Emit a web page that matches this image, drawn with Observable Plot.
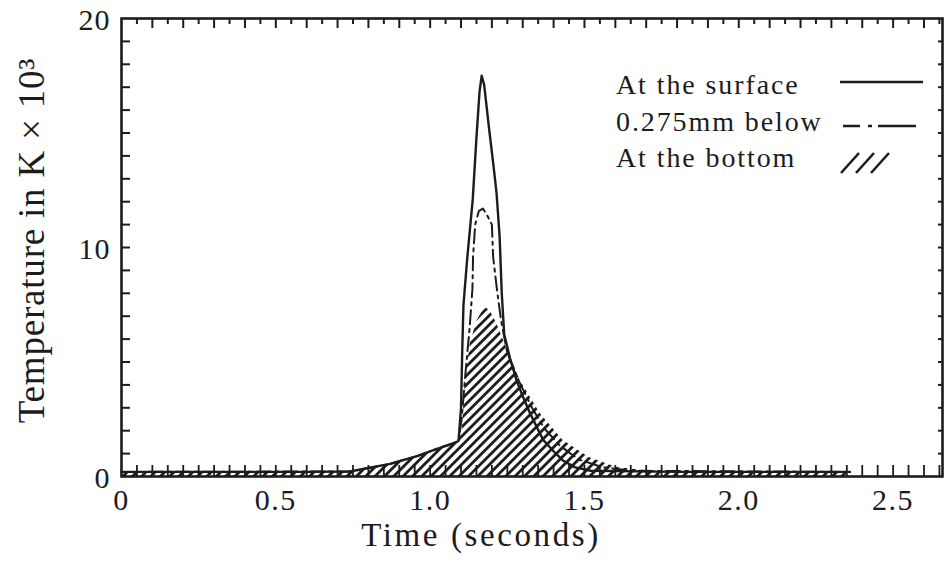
<!DOCTYPE html>
<html><head><meta charset="utf-8">
<script src="https://cdn.jsdelivr.net/npm/d3@7"></script>
<script src="https://cdn.jsdelivr.net/npm/@observablehq/plot@0.6"></script>
<style>
body{margin:0;background:#fff;}
#wrap{position:relative;width:944px;height:565px;overflow:hidden;}
#legend{position:absolute;left:0;top:0;pointer-events:none;}
.xticks text{letter-spacing:1.5px;}
.yticks text{letter-spacing:1px;}
.xtitle text{letter-spacing:2.6px;}
.ytitle text{letter-spacing:0.8px;}
</style></head><body><div id="wrap"></div>
<script>
// ---- data ----
const timeSurface = [0, 0.3, 0.6, 0.74, 0.87, 0.96, 1.02, 1.075, 1.092, 1.100, 1.104, 1.108, 1.12, 1.138, 1.15, 1.16, 1.167, 1.175, 1.19, 1.205, 1.215, 1.225, 1.232, 1.24, 1.26, 1.28, 1.30, 1.324, 1.366, 1.40, 1.43, 1.47, 1.52, 1.8, 2.36];
const tempSurface = [0.2, 0.2, 0.2, 0.22, 0.55, 0.9, 1.2, 1.45, 1.55, 3.0, 5.5, 7.5, 9.5, 12.1, 14.8, 16.8, 17.5, 17.1, 15.3, 13.6, 12.4, 10.5, 8.0, 6.2, 5.1, 4.2, 3.5, 2.75, 1.6, 1.1, 0.7, 0.4, 0.25, 0.2, 0.2];

const timeMid = [0, 0.74, 0.87, 0.96, 1.02, 1.075, 1.092, 1.102, 1.115, 1.128, 1.137, 1.139, 1.146, 1.158, 1.171, 1.185, 1.2, 1.204, 1.217, 1.23, 1.25, 1.29, 1.33, 1.37, 1.42, 1.48, 1.56, 1.66, 2.36];
const tempMid = [0.2, 0.22, 0.55, 0.9, 1.2, 1.45, 1.55, 2.5, 4.6, 6.5, 8.2, 9.6, 11.0, 11.6, 11.7, 11.4, 11.0, 9.6, 8.1, 6.8, 5.4, 4.1, 3.0, 2.1, 1.35, 0.75, 0.4, 0.25, 0.2];

const timeBottom = [0, 0.74, 0.87, 0.96, 1.02, 1.075, 1.092, 1.104, 1.113, 1.13, 1.152, 1.178, 1.195, 1.215, 1.245, 1.291, 1.356, 1.43, 1.515, 1.605, 1.7, 1.8, 2.36];
const tempBottom = [0.2, 0.22, 0.55, 0.9, 1.2, 1.45, 1.55, 2.0, 4.0, 5.8, 6.8, 7.4, 7.2, 6.7, 5.7, 4.2, 2.76, 1.58, 0.83, 0.39, 0.25, 0.2, 0.2];

const xTickLabels = [0, 0.5, 1.0, 1.5, 2.0, 2.5];
const yTickLabels = [0, 10, 20];
const seriesNames = ["At the surface", "0.275mm below", "At the bottom"];

// ---- build tables ----
const surface = timeSurface.map((t, i) => ({t, v: tempSurface[i]}));
const mid = timeMid.map((t, i) => ({t, v: tempMid[i]}));
const bottom = timeBottom.map((t, i) => ({t, v: tempBottom[i]}));

const W = 944, H = 565, mL = 121, mR = 2, mT = 18, mB = 89;
const innerW = W - mL - mR, innerH = H - mT - mB;
const ink = "#1c1c1c";
const font = "'Liberation Serif', 'Times New Roman', serif";

const xMinor = d3.range(1, 54).map(i => i * 0.05);
const xMajorTop = xMinor.filter((d, i) => i % 2 === 1);
const xMinorTop = xMinor.filter((d, i) => i % 2 === 0);
const yMinor = d3.range(1, 20);

const svg = Plot.plot({
  width: W, height: H,
  marginLeft: mL, marginRight: mR, marginTop: mT, marginBottom: mB,
  style: {fontFamily: font, color: ink, background: "#fff", overflow: "visible"},
  x: {domain: [0, 2.66], axis: null},
  y: {domain: [0, 20], axis: null},
  marks: [
    Plot.areaY(bottom, {x: "t", y: "v", fill: "url(#hatch)"}),
    Plot.line(surface, {x: "t", y: "v", stroke: ink, strokeWidth: 2.4}),
    Plot.line(mid, {x: "t", y: "v", stroke: ink, strokeWidth: 2, strokeDasharray: "14,5,3,5"}),
    // inward ticks
    Plot.tickX(xMajorTop, {x: d => d, stroke: ink, strokeWidth: 2, insetBottom: innerH - 10}),
    Plot.tickX(xMinorTop, {x: d => d, stroke: ink, strokeWidth: 2, insetBottom: innerH - 6}),
    Plot.tickX(xMinor, {x: d => d, stroke: ink, strokeWidth: 1.8, insetTop: innerH - 11}),
    Plot.tickY(yMinor, {y: d => d, stroke: ink, strokeWidth: 2, insetRight: innerW - 9}),
    Plot.tickY(yMinor, {y: d => d, stroke: ink, strokeWidth: 2, insetLeft: innerW - 4}),
    Plot.frame({stroke: ink, strokeWidth: 2.6}),
    Plot.axisX(xTickLabels, {tickSize: 0, tickPadding: 12, fontSize: 30, label: null,
      tickFormat: d => d === 0 ? "0" : d.toFixed(1), className: "xticks"}),
    Plot.axisY(yTickLabels, {tickSize: 0, tickPadding: 11, fontSize: 30, label: null, dy: 2,
      className: "yticks"}),
    Plot.text(["Time (seconds)"], {text: d => d, frameAnchor: "bottom", dx: -51, dy: 69,
      fontSize: 33, fill: ink, className: "xtitle"}),
    Plot.text(["Temperature in K \u00d7 10\u00b3"], {text: d => d, frameAnchor: "left", textAnchor: "middle",
      dx: -89, dy: -7, rotate: -90, fontSize: 37, fill: ink, className: "ytitle"})
  ]
});

// hatch pattern
const defs = d3.select(svg).insert("defs", ":first-child");
const pat = defs.append("pattern").attr("id", "hatch").attr("patternUnits", "userSpaceOnUse")
  .attr("width", 6.6).attr("height", 6.6).attr("patternTransform", "rotate(45)");
pat.append("rect").attr("x", 0).attr("y", 0).attr("width", 2.8).attr("height", 6.6).attr("fill", ink);

document.getElementById("wrap").appendChild(svg);

// legend overlay
const lg = d3.select("#wrap").append("svg").attr("id", "legend").attr("width", W).attr("height", H);
const lgText = lg.append("g").attr("font-family", font).attr("font-size", 28).attr("fill", ink)
  .style("letter-spacing", "1.9px");
seriesNames.forEach((name, i) => {
  lgText.append("text").attr("x", 616).attr("y", 94 + i * 36.5).text(name);
});
lg.append("line").attr("x1", 840).attr("x2", 923).attr("y1", 82).attr("y2", 82)
  .attr("stroke", ink).attr("stroke-width", 2.6);
lg.append("line").attr("x1", 843).attr("x2", 916).attr("y1", 126).attr("y2", 126)
  .attr("stroke", ink).attr("stroke-width", 2.4).attr("stroke-dasharray", "17,8,4,6,40");
[0, 1, 2].forEach(k => {
  lg.append("line").attr("x1", 841 + k * 15).attr("y1", 173).attr("x2", 859 + k * 15).attr("y2", 153)
    .attr("stroke", ink).attr("stroke-width", 2.6);
});
</script></body></html>
